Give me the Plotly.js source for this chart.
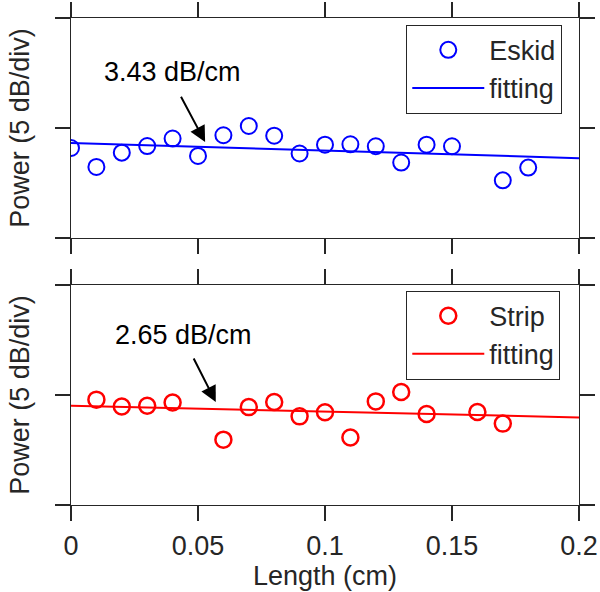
<!DOCTYPE html>
<html>
<head>
<meta charset="utf-8">
<script src="https://cdn.plot.ly/plotly-3.0.1.min.js"></script>
<style>html,body{margin:0;padding:0;background:#fff;}#chart{width:600px;height:592px;}</style>
</head>
<body>
<div id="chart"></div>
<script>
// Data (y in dB relative to the middle tick; 5 dB per division)
const eskidX = [0, 0.01, 0.02, 0.03, 0.04, 0.05, 0.06, 0.07, 0.08, 0.09, 0.10, 0.11, 0.12, 0.13, 0.14, 0.15, 0.17, 0.18];
const eskidY = [-0.91, -1.77, -1.12, -0.82, -0.48, -1.27, -0.33, 0.09, -0.35, -1.16, -0.76, -0.74, -0.83, -1.57, -0.76, -0.83, -2.38, -1.80];
const stripX = [0.01, 0.02, 0.03, 0.04, 0.06, 0.07, 0.08, 0.09, 0.10, 0.11, 0.12, 0.13, 0.14, 0.16, 0.17];
const stripY = [-0.21, -0.52, -0.49, -0.34, -2.03, -0.55, -0.32, -0.97, -0.78, -1.93, -0.29, 0.14, -0.86, -0.77, -1.30];
const fitX = [0, 0.2];
const eskidFitY = [-0.68, -1.37];
const stripFitY = [-0.49, -1.02];
const xTickVals = [0, 0.05, 0.1, 0.15, 0.2];
const xTickText = ['0', '0.05', '0.1', '0.15', '0.2'];
const yTickVals = [-5, 0, 5];
const labels = {eskid: 'Eskid', strip: 'Strip', fit: 'fitting', eskidRate: '3.43 dB/cm', stripRate: '2.65 dB/cm'};

const FONT = 'Liberation Sans, Arial, sans-serif';
const INK = 'rgb(38,38,38)';
const BLUE = 'rgb(0,0,255)';
const RED = 'rgb(255,0,0)';
const FS = 27;

const traces = [
  {x: eskidX, y: eskidY, xaxis: 'x2', yaxis: 'y2', type: 'scatter', mode: 'markers', name: labels.eskid,
   marker: {symbol: 'circle-open', size: 16, color: BLUE, line: {width: 2, color: BLUE}}, legend: 'legend'},
  {x: fitX, y: eskidFitY, xaxis: 'x2', yaxis: 'y2', type: 'scatter', mode: 'lines', name: labels.fit,
   line: {color: BLUE, width: 2}, legend: 'legend'},
  {x: stripX, y: stripY, xaxis: 'x', yaxis: 'y', type: 'scatter', mode: 'markers', name: labels.strip,
   marker: {symbol: 'circle-open', size: 16, color: RED, line: {width: 2.5, color: RED}}, legend: 'legend2'},
  {x: fitX, y: stripFitY, xaxis: 'x', yaxis: 'y', type: 'scatter', mode: 'lines', name: labels.fit,
   line: {color: RED, width: 2}, legend: 'legend2'}
];

const axCommon = {
  showline: true, linecolor: INK, linewidth: 1.3, mirror: 'ticks',
  ticks: 'outside', ticklen: 15, tickwidth: 1.3, tickcolor: INK,
  showgrid: false, zeroline: false, fixedrange: true
};

const ytitle = {text: 'Power (5 dB/div)', font: {family: FONT, size: FS, color: INK}, standoff: 17};

const legendCommon = {xanchor: 'left', yanchor: 'top', bgcolor: '#fff', bordercolor: INK, borderwidth: 1,
  font: {family: FONT, size: FS, color: INK}, itemwidth: 72, tracegroupgap: 0};

const layout = {
  width: 600, height: 592,
  margin: {l: 71, r: 21, t: 18, b: 87},
  paper_bgcolor: '#fff', plot_bgcolor: '#fff',
  font: {family: FONT, color: INK, size: FS},
  xaxis: Object.assign({}, axCommon, {domain: [0, 1], range: [0, 0.2], tickvals: xTickVals, ticktext: xTickText,
    tickfont: {family: FONT, size: FS, color: INK}, ticklabelstandoff: 1,
    title: {text: 'Length (cm)', font: {family: FONT, size: FS, color: INK}, standoff: 0}, anchor: 'y'}),
  yaxis: Object.assign({}, axCommon, {domain: [0, 0.4517], range: [-5, 5], tickvals: yTickVals, showticklabels: false,
    title: ytitle, anchor: 'x'}),
  xaxis2: Object.assign({}, axCommon, {domain: [0, 1], range: [0, 0.2], tickvals: xTickVals, showticklabels: false,
    anchor: 'y2', matches: 'x'}),
  yaxis2: Object.assign({}, axCommon, {domain: [0.5483, 1], range: [-5, 5], tickvals: yTickVals, showticklabels: false,
    title: ytitle, anchor: 'x2'}),
  showlegend: true,
  legend: Object.assign({}, legendCommon, {x: 0.66, y: 0.986}),
  legend2: Object.assign({}, legendCommon, {x: 0.66, y: 0.44}),
  annotations: [
    {xref: 'x2', yref: 'y2', x: 0.0398, y: 2.53, text: labels.eskidRate, showarrow: false,
     font: {family: FONT, size: FS, color: '#000'}},
    {xref: 'x2', yref: 'y2', x: 0.0528, y: -0.64, axref: 'x2', ayref: 'y2', ax: 0.043, ay: 1.49, text: '',
     showarrow: true, arrowhead: 2, arrowsize: 1.6, arrowwidth: 2, arrowcolor: '#000', standoff: 0, startstandoff: 0},
    {xref: 'x', yref: 'y', x: 0.0444, y: 2.74, text: labels.stripRate, showarrow: false,
     font: {family: FONT, size: FS, color: '#000'}},
    {xref: 'x', yref: 'y', x: 0.057, y: -0.32, axref: 'x', ayref: 'y', ax: 0.048, ay: 1.73, text: '',
     showarrow: true, arrowhead: 2, arrowsize: 1.6, arrowwidth: 2, arrowcolor: '#000', standoff: 0, startstandoff: 0}
  ]
};

Plotly.newPlot('chart', traces, layout, {displayModeBar: false, staticPlot: true});
</script>
</body>
</html>
